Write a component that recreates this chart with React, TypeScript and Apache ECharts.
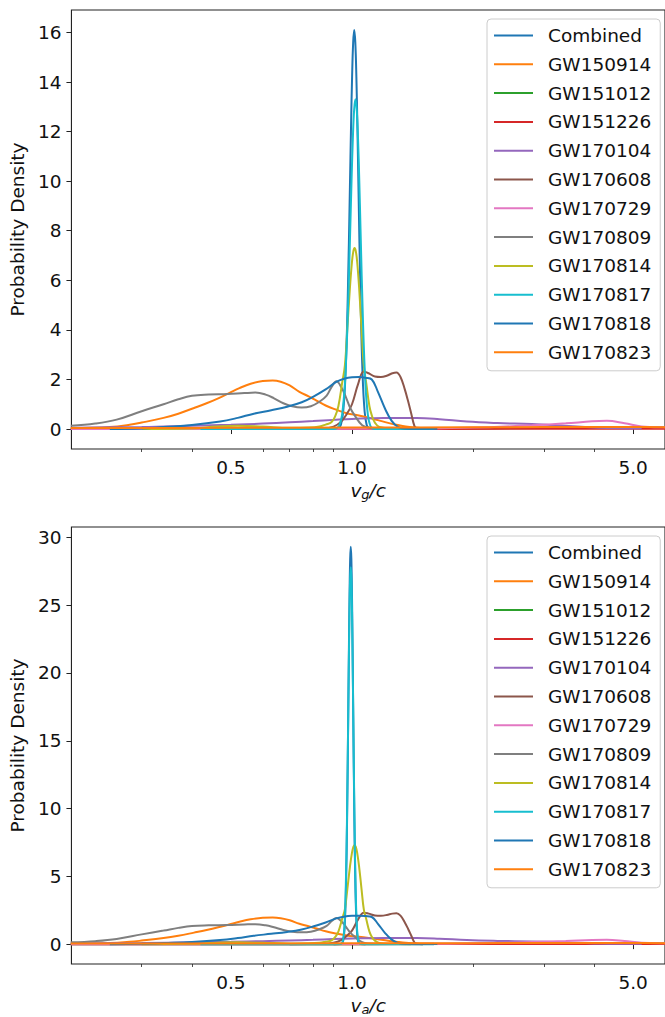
import React, { useEffect, useRef } from "react";
import * as echarts from "echarts";

// ---------- data ----------
const eventNames = [
  "Combined", "GW150914", "GW151012", "GW151226", "GW170104", "GW170608",
  "GW170729", "GW170809", "GW170814", "GW170817", "GW170818", "GW170823",
];
const eventColors = [
  "#1f77b4", "#ff7f0e", "#2ca02c", "#d62728", "#9467bd", "#8c564b",
  "#e377c2", "#7f7f7f", "#bcbd22", "#17becf", "#1f77b4", "#ff7f0e",
];

const xMajorTicks = [0.5, 1.0, 5.0];
const xMinorTicks = [0.3, 0.4, 0.6, 0.7, 0.8, 0.9, 2, 3, 4];
const yTicksTop = [0, 2, 4, 6, 8, 10, 12, 14, 16];
const yTicksBottom = [0, 5, 10, 15, 20, 25, 30];

// [v/c, density]
const combinedVg = [[0.88,0],[0.9138,0.005],[0.9262,0.035],[0.9386,0.174],[0.951,0.707],[0.9634,2.18],[0.9758,5.23],[0.9882,9.76],[0.9944,12.15],[1.0006,14.21],[1.0068,15.6],[1.013,16.1],[1.0192,15.6],[1.0254,14.21],[1.0316,12.15],[1.0378,9.76],[1.0502,5.23],[1.0626,2.18],[1.075,0.707],[1.0874,0.174],[1.0998,0.035],[1.1122,0.005],[1.15,0]];
const combinedVa = [[0.90,0],[0.9385,0.01],[0.9453,0.064],[0.9521,0.32],[0.959,1.29],[0.9658,3.96],[0.9726,9.51],[0.9794,17.77],[0.9828,22.12],[0.9862,25.86],[0.9896,28.4],[0.993,29.3],[0.9964,28.4],[0.9998,25.86],[1.0032,22.12],[1.0066,17.77],[1.0134,9.51],[1.0202,3.96],[1.027,1.29],[1.0339,0.32],[1.0407,0.064],[1.0475,0.01],[1.08,0]];
const gw150914 = [[0.20,0.03],[0.25,0.08],[0.28,0.17],[0.30,0.26],[0.34,0.45],[0.37,0.62],[0.405,0.85],[0.435,1.04],[0.465,1.24],[0.495,1.45],[0.525,1.65],[0.56,1.83],[0.60,1.94],[0.635,1.96],[0.665,1.91],[0.70,1.76],[0.74,1.5],[0.78,1.32],[0.816,1.15],[0.86,0.95],[0.914,0.78],[0.97,0.64],[1.04,0.55],[1.10,0.46],[1.16,0.36],[1.23,0.25],[1.30,0.16],[1.36,0.1],[1.45,0.05],[1.6,0.02],[1.8,0.01]];
const gw151012 = [[0.20,0],[1.0,0.0],[2.0,0.02],[3.0,0.04],[4.0,0.05],[5.0,0.06],[6.0,0.07]];
const gw151226 = [[0.20,0.0],[1.0,0.0],[3.0,0.01],[6.0,0.01]];
const gw170104 = [[0.20,0.05],[0.30,0.08],[0.40,0.13],[0.50,0.17],[0.60,0.22],[0.70,0.27],[0.80,0.32],[0.90,0.37],[1.0,0.41],[1.2,0.45],[1.45,0.45],[1.65,0.40],[1.93,0.30],[2.3,0.24],[2.8,0.2],[3.3,0.14],[3.8,0.08],[4.1,0.05],[4.6,0.03],[5.25,0.02]];
const gw170608 = [[0.70,0],[0.85,0.02],[0.90,0.1],[0.94,0.3],[0.97,0.6],[1.0,1.0],[1.035,1.8],[1.07,2.32],[1.10,2.25],[1.14,2.12],[1.18,2.1],[1.22,2.15],[1.26,2.25],[1.29,2.28],[1.32,2.1],[1.353,1.6],[1.38,1.1],[1.405,0.6],[1.43,0.12],[1.45,0.03],[1.5,0]];
const gw170729 = [[0.20,0],[0.6,0],[1.0,0.01],[1.5,0.02],[2.0,0.06],[2.4,0.1],[2.8,0.15],[3.4,0.23],[3.95,0.31],[4.3,0.33],[4.76,0.23],[5.25,0.1],[5.8,0.07],[6.0,0.07]];
const gw170809 = [[0.20,0.13],[0.23,0.22],[0.26,0.38],[0.30,0.72],[0.34,1.0],[0.37,1.2],[0.40,1.34],[0.44,1.39],[0.49,1.41],[0.54,1.45],[0.575,1.47],[0.61,1.39],[0.64,1.24],[0.675,1.04],[0.71,0.92],[0.75,0.87],[0.79,0.92],[0.83,1.1],[0.865,1.35],[0.89,1.7],[0.915,1.93],[0.94,1.7],[0.965,1.3],[0.99,0.85],[1.02,0.5],[1.06,0.15],[1.1,0.05],[1.2,0.01],[1.5,0]];
const gw170814 = [[0.30,0],[0.40,0.02],[0.46,0.1],[0.52,0.13],[0.60,0.1],[0.70,0.05],[0.78,0.06],[0.83,0.1],[0.86,0.18],[0.89,0.28],[0.91,0.55],[0.925,0.92],[0.945,1.85],[0.96,2.56],[0.974,4.08],[0.988,5.67],[1.0,6.75],[1.008,7.18],[1.015,7.3],[1.022,7.18],[1.03,6.75],[1.042,5.67],[1.056,4.08],[1.07,2.56],[1.085,1.85],[1.105,0.92],[1.12,0.55],[1.14,0.26],[1.17,0.08],[1.25,0.02],[1.4,0]];
const gw170817Vg = [[0.42,0],[0.85,0],[0.90,0.0045],[0.915,0.029],[0.93,0.144],[0.945,0.584],[0.96,1.8],[0.975,4.32],[0.99,8.07],[0.9975,10.04],[1.005,11.74],[1.0125,12.89],[1.02,13.3],[1.0275,12.89],[1.035,11.74],[1.0425,10.04],[1.05,8.07],[1.065,4.32],[1.08,1.8],[1.095,0.584],[1.11,0.144],[1.125,0.029],[1.14,0.0045],[1.2,0],[1.6,0]];
const gw170817Va = [[0.42,0],[0.90,0],[0.9358,0.009],[0.943,0.06],[0.9501,0.3],[0.9573,1.22],[0.9644,3.76],[0.9716,9.03],[0.9787,16.86],[0.9823,20.98],[0.9859,24.53],[0.9894,26.94],[0.993,27.8],[0.9966,26.94],[1.0002,24.53],[1.0037,20.98],[1.0073,16.86],[1.0145,9.03],[1.0216,3.76],[1.0288,1.22],[1.0359,0.3],[1.0431,0.06],[1.0502,0.009],[1.1,0],[1.6,0]];
const gw170818 = [[0.25,0],[0.30,0.02],[0.34,0.08],[0.40,0.16],[0.47,0.3],[0.52,0.45],[0.57,0.62],[0.63,0.76],[0.69,0.9],[0.75,1.08],[0.80,1.3],[0.86,1.6],[0.914,1.9],[0.96,2.04],[1.0,2.09],[1.04,2.1],[1.08,2.07],[1.12,2.0],[1.16,1.5],[1.21,0.8],[1.255,0.33],[1.30,0.09],[1.35,0.02],[1.45,0.01],[1.63,0.01]];
const gw170823 = [[0.20,0.04],[0.5,0.05],[1.0,0.06],[2.0,0.07],[3.0,0.08],[4.0,0.08],[5.0,0.08],[6.0,0.07]];

const panelVg = [combinedVg, gw150914, gw151012, gw151226, gw170104, gw170608, gw170729, gw170809, gw170814, gw170817Vg, gw170818, gw170823];
const panelVa = [combinedVa, gw150914, gw151012, gw151226, gw170104, gw170608, gw170729, gw170809, gw170814, gw170817Va, gw170818, gw170823];

// ---------- layout / style ----------
const FONT = "DejaVu Sans";
const TXT = "#111";
const SPINE = "#222";
const FS = 18.5;
const X_MIN = 0.2007;
const X_MAX = 6.0;

function buildOption() {
  const panels = [
    { data: panelVg, top: 10, height: 439, yMin: -0.805, yMax: 16.905, yTicks: yTicksTop, sub: "g", legendTop: 19 },
    { data: panelVa, top: 527, height: 438, yMin: -1.465, yMax: 30.765, yTicks: yTicksBottom, sub: "a", legendTop: 536 },
  ];
  const grid: any[] = [];
  const xAxis: any[] = [];
  const yAxis: any[] = [];
  const legend: any[] = [];
  const series: any[] = [];
  panels.forEach((p, gi) => {
    grid.push({ left: 68, top: p.top, width: 603, height: p.height, show: true, borderColor: SPINE, borderWidth: 1.1, backgroundColor: "transparent" });
    xAxis.push({
      type: "log", logBase: 10, gridIndex: gi, min: X_MIN, max: X_MAX, position: "bottom",
      axisLine: { show: false }, splitLine: { show: false }, minorTick: { show: false },
      axisTick: { show: true, customValues: xMajorTicks, length: 5, lineStyle: { color: SPINE, width: 1 } },
      axisLabel: { customValues: xMajorTicks, formatter: (v: number) => Number(v).toFixed(1), margin: 9, fontSize: FS, fontFamily: FONT, color: TXT },
      name: `{i|v}{s|${p.sub}}{i|/c}`, nameLocation: "middle", nameGap: 30,
      nameTextStyle: {
        rich: {
          i: { fontFamily: FONT, fontStyle: "italic", fontSize: FS, color: TXT },
          s: { fontFamily: FONT, fontStyle: "italic", fontSize: 13, color: TXT, padding: [9, 0, 0, 0] },
        },
      },
    });
    xAxis.push({
      type: "log", logBase: 10, gridIndex: gi, min: X_MIN, max: X_MAX, position: "bottom",
      axisLine: { show: false }, splitLine: { show: false }, axisLabel: { show: false },
      axisTick: { show: true, customValues: xMinorTicks, length: 3, lineStyle: { color: SPINE, width: 0.8 } },
    });
    yAxis.push({
      type: "value", gridIndex: gi, min: p.yMin, max: p.yMax,
      axisLine: { show: false }, splitLine: { show: false },
      axisTick: { show: true, customValues: p.yTicks, length: 5, lineStyle: { color: SPINE, width: 1 } },
      axisLabel: { customValues: p.yTicks, margin: 10, fontSize: FS, fontFamily: FONT, color: TXT },
      name: "Probability Density", nameLocation: "middle", nameGap: 37,
      nameTextStyle: { fontSize: FS, fontFamily: FONT, color: TXT },
    });
    legend.push({
      data: eventNames.map((n) => ({ name: n, icon: "rect" })),
      orient: "vertical", left: 487, top: p.legendTop,
      itemWidth: 39, itemHeight: 2, itemGap: 9.8, padding: [7, 9, 9, 7],
      borderColor: "#cccccc", borderWidth: 1, borderRadius: 4, backgroundColor: "rgba(255,255,255,0.8)",
      selectedMode: false,
      itemStyle: { borderWidth: 0 },
      lineStyle: { width: 0 },
      textStyle: { fontFamily: FONT, fontSize: FS, color: TXT, lineHeight: 18, padding: [0, 0, 0, 10] },
    });
    p.data.forEach((d, k) => {
      series.push({
        type: "line", name: eventNames[k], xAxisIndex: gi * 2, yAxisIndex: gi,
        data: d, symbol: "none", showSymbol: false, smooth: 0.4,
        lineStyle: { width: 2, color: eventColors[k] }, itemStyle: { color: eventColors[k] },
        emphasis: { disabled: true },
      });
    });
  });
  return { animation: false, backgroundColor: "#fff", grid, xAxis, yAxis, legend, series };
}

export default function App() {
  const ref = useRef<HTMLDivElement>(null);
  useEffect(() => {
    if (!ref.current) return;
    const chart = echarts.init(ref.current, null, { renderer: "svg" });
    chart.setOption(buildOption() as any);
    return () => chart.dispose();
  }, []);
  return <div ref={ref} style={{ position: "absolute", left: 0, top: 0, width: 665, height: 1017 }} />;
}
